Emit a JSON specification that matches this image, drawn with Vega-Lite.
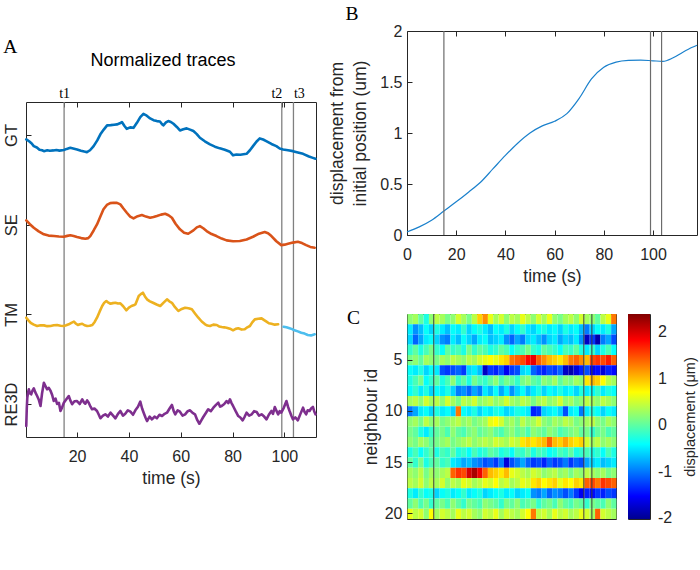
{
  "$schema": "https://vega.github.io/schema/vega-lite/v6.json",
  "background": "white",
  "padding": {"left": 3, "top": 3, "right": 0, "bottom": 0},
  "config": {
    "font": "Liberation Sans",
    "view": {"stroke": "#262626", "strokeWidth": 1},
    "axis": {"grid": false, "domain": false, "labelFont": "Liberation Sans", "labelFontSize": 16, "labelColor": "#262626", "titleFont": "Liberation Sans", "titleFontSize": 17.5, "titleFontWeight": "normal", "titleColor": "#262626", "tickColor": "#262626", "tickSize": -5, "tickWidth": 1, "labelFlush": false, "labelOverlap": false},
    "title": {"font": "Liberation Serif", "fontSize": 19.5, "fontWeight": "normal", "color": "#000000"}
  },
  "datasets": {
    "markers": [{"m": "t1", "t": 15}, {"m": "t2", "t": 99}, {"m": "t3", "t": 103.5}],
    "cbar": [{"lo": -2.03, "hi": 2.38}],
    "shift": [
      {"t": 0, "d": 0.03}, {"t": 5, "d": 0.08}, {"t": 10, "d": 0.145}, {"t": 15, "d": 0.235}, {"t": 20, "d": 0.325}, {"t": 25, "d": 0.42}, {"t": 30, "d": 0.52}, {"t": 35, "d": 0.65}, {"t": 40, "d": 0.78}, {"t": 45, "d": 0.9}, {"t": 50, "d": 1.0}, {"t": 55, "d": 1.07}, {"t": 60, "d": 1.115}, {"t": 65, "d": 1.19}, {"t": 70, "d": 1.34}, {"t": 75, "d": 1.53}, {"t": 80, "d": 1.645}, {"t": 85, "d": 1.695}, {"t": 90, "d": 1.712}, {"t": 95, "d": 1.715}, {"t": 100, "d": 1.708}, {"t": 104, "d": 1.703}, {"t": 108, "d": 1.735}, {"t": 112, "d": 1.79}, {"t": 116, "d": 1.84}, {"t": 117.9, "d": 1.86}
    ],
    "traces": [
      {"s":"GT","t":0.4,"v":3.951},{"s":"GT","t":1.5,"v":3.93},{"s":"GT","t":2.5,"v":3.905},{"s":"GT","t":3.3,"v":3.876},{"s":"GT","t":4.5,"v":3.86},{"s":"GT","t":5.5,"v":3.835},{"s":"GT","t":6.5,"v":3.83},{"s":"GT","t":7.2,"v":3.82},{"s":"GT","t":8.5,"v":3.83},{"s":"GT","t":9.5,"v":3.825},{"s":"GT","t":10.9,"v":3.828},{"s":"GT","t":12,"v":3.832},{"s":"GT","t":13.2,"v":3.826},{"s":"GT","t":14.9,"v":3.832},{"s":"GT","t":16,"v":3.845},{"s":"GT","t":17.4,"v":3.857},{"s":"GT","t":18.5,"v":3.85},{"s":"GT","t":20,"v":3.839},{"s":"GT","t":21.5,"v":3.825},{"s":"GT","t":22.8,"v":3.815},{"s":"GT","t":23.8,"v":3.809},{"s":"GT","t":25,"v":3.83},{"s":"GT","t":26.4,"v":3.876},{"s":"GT","t":27.8,"v":3.94},{"s":"GT","t":29,"v":4.007},{"s":"GT","t":30.3,"v":4.06},{"s":"GT","t":31.6,"v":4.107},{"s":"GT","t":33,"v":4.11},{"s":"GT","t":34.3,"v":4.115},{"s":"GT","t":35.4,"v":4.118},{"s":"GT","t":36.5,"v":4.13},{"s":"GT","t":37.3,"v":4.144},{"s":"GT","t":38.3,"v":4.1},{"s":"GT","t":39.2,"v":4.069},{"s":"GT","t":40.5,"v":4.085},{"s":"GT","t":41.8,"v":4.08},{"s":"GT","t":43.1,"v":4.136},{"s":"GT","t":44.4,"v":4.2},{"s":"GT","t":45.6,"v":4.236},{"s":"GT","t":46.9,"v":4.215},{"s":"GT","t":48.2,"v":4.185},{"s":"GT","t":49.5,"v":4.165},{"s":"GT","t":50.8,"v":4.155},{"s":"GT","t":52,"v":4.15},{"s":"GT","t":52.8,"v":4.12},{"s":"GT","t":53.3,"v":4.107},{"s":"GT","t":54.3,"v":4.14},{"s":"GT","t":55.2,"v":4.155},{"s":"GT","t":56.2,"v":4.145},{"s":"GT","t":57.2,"v":4.125},{"s":"GT","t":58.5,"v":4.09},{"s":"GT","t":59.7,"v":4.051},{"s":"GT","t":61,"v":4.065},{"s":"GT","t":62.3,"v":4.074},{"s":"GT","t":63.6,"v":4.06},{"s":"GT","t":64.9,"v":4.044},{"s":"GT","t":66.2,"v":4.01},{"s":"GT","t":67.4,"v":3.969},{"s":"GT","t":69.3,"v":3.93},{"s":"GT","t":71.3,"v":3.895},{"s":"GT","t":73.2,"v":3.87},{"s":"GT","t":75.1,"v":3.851},{"s":"GT","t":77,"v":3.835},{"s":"GT","t":79,"v":3.813},{"s":"GT","t":80.2,"v":3.773},{"s":"GT","t":81.5,"v":3.782},{"s":"GT","t":83,"v":3.78},{"s":"GT","t":84.2,"v":3.785},{"s":"GT","t":85.4,"v":3.79},{"s":"GT","t":86.7,"v":3.83},{"s":"GT","t":87.9,"v":3.876},{"s":"GT","t":89.2,"v":3.925},{"s":"GT","t":90.5,"v":3.962},{"s":"GT","t":91.8,"v":3.95},{"s":"GT","t":93,"v":3.932},{"s":"GT","t":95,"v":3.9},{"s":"GT","t":96.9,"v":3.876},{"s":"GT","t":98.2,"v":3.85},{"s":"GT","t":99.5,"v":3.839},{"s":"GT","t":101.4,"v":3.83},{"s":"GT","t":103.3,"v":3.82},{"s":"GT","t":105.2,"v":3.805},{"s":"GT","t":107.2,"v":3.79},{"s":"GT","t":109.5,"v":3.76},{"s":"GT","t":111,"v":3.745},{"s":"GT","t":112,"v":3.735},
      {"s":"SE","t":0.4,"v":3.048},{"s":"SE","t":1.8,"v":3.005},{"s":"SE","t":3.3,"v":2.965},{"s":"SE","t":5.2,"v":2.925},{"s":"SE","t":7.2,"v":2.892},{"s":"SE","t":9,"v":2.878},{"s":"SE","t":11.1,"v":2.873},{"s":"SE","t":13,"v":2.868},{"s":"SE","t":14.9,"v":2.865},{"s":"SE","t":16.2,"v":2.875},{"s":"SE","t":17.4,"v":2.881},{"s":"SE","t":18.7,"v":2.873},{"s":"SE","t":20,"v":2.862},{"s":"SE","t":21.6,"v":2.85},{"s":"SE","t":23.2,"v":2.843},{"s":"SE","t":24.3,"v":2.85},{"s":"SE","t":25.1,"v":2.873},{"s":"SE","t":26.4,"v":2.935},{"s":"SE","t":27.7,"v":3.003},{"s":"SE","t":29,"v":3.09},{"s":"SE","t":30.2,"v":3.171},{"s":"SE","t":31.5,"v":3.22},{"s":"SE","t":32.8,"v":3.24},{"s":"SE","t":34.1,"v":3.244},{"s":"SE","t":35.4,"v":3.243},{"s":"SE","t":36.7,"v":3.226},{"s":"SE","t":37.9,"v":3.18},{"s":"SE","t":39.2,"v":3.133},{"s":"SE","t":40.5,"v":3.09},{"s":"SE","t":41.8,"v":3.07},{"s":"SE","t":43.4,"v":3.095},{"s":"SE","t":45,"v":3.107},{"s":"SE","t":46.6,"v":3.09},{"s":"SE","t":48.2,"v":3.077},{"s":"SE","t":49.5,"v":3.085},{"s":"SE","t":50.8,"v":3.096},{"s":"SE","t":52.4,"v":3.112},{"s":"SE","t":54,"v":3.122},{"s":"SE","t":55.3,"v":3.105},{"s":"SE","t":56.6,"v":3.077},{"s":"SE","t":58,"v":3.01},{"s":"SE","t":59.7,"v":2.948},{"s":"SE","t":61.3,"v":2.91},{"s":"SE","t":62.9,"v":2.899},{"s":"SE","t":64.9,"v":2.936},{"s":"SE","t":66.2,"v":2.97},{"s":"SE","t":67.4,"v":2.984},{"s":"SE","t":68.7,"v":2.96},{"s":"SE","t":70,"v":2.929},{"s":"SE","t":71.9,"v":2.895},{"s":"SE","t":73.8,"v":2.873},{"s":"SE","t":75.8,"v":2.845},{"s":"SE","t":77.7,"v":2.825},{"s":"SE","t":80.2,"v":2.815},{"s":"SE","t":82.8,"v":2.817},{"s":"SE","t":85.4,"v":2.835},{"s":"SE","t":87.9,"v":2.865},{"s":"SE","t":90.2,"v":2.9},{"s":"SE","t":92.4,"v":2.918},{"s":"SE","t":93.7,"v":2.905},{"s":"SE","t":95,"v":2.873},{"s":"SE","t":96.9,"v":2.815},{"s":"SE","t":98.8,"v":2.772},{"s":"SE","t":100.1,"v":2.777},{"s":"SE","t":101.4,"v":2.787},{"s":"SE","t":103.3,"v":2.8},{"s":"SE","t":105.2,"v":2.809},{"s":"SE","t":106.8,"v":2.795},{"s":"SE","t":108.4,"v":2.772},{"s":"SE","t":110,"v":2.752},{"s":"SE","t":111.7,"v":2.742},
      {"s":"TM","t":0.4,"v":1.962},{"s":"TM","t":1.3,"v":1.93},{"s":"TM","t":2.1,"v":1.906},{"s":"TM","t":3.3,"v":1.885},{"s":"TM","t":4.6,"v":1.87},{"s":"TM","t":5.9,"v":1.878},{"s":"TM","t":7.2,"v":1.877},{"s":"TM","t":8.5,"v":1.868},{"s":"TM","t":9.8,"v":1.87},{"s":"TM","t":11,"v":1.878},{"s":"TM","t":12.3,"v":1.881},{"s":"TM","t":13.6,"v":1.872},{"s":"TM","t":14.9,"v":1.87},{"s":"TM","t":15.8,"v":1.878},{"s":"TM","t":16.8,"v":1.889},{"s":"TM","t":17.8,"v":1.905},{"s":"TM","t":18.8,"v":1.918},{"s":"TM","t":19.6,"v":1.895},{"s":"TM","t":20.3,"v":1.881},{"s":"TM","t":21.1,"v":1.89},{"s":"TM","t":22,"v":1.895},{"s":"TM","t":22.9,"v":1.878},{"s":"TM","t":23.9,"v":1.87},{"s":"TM","t":24.9,"v":1.872},{"s":"TM","t":25.9,"v":1.881},{"s":"TM","t":26.8,"v":1.915},{"s":"TM","t":27.7,"v":1.962},{"s":"TM","t":28.7,"v":2.03},{"s":"TM","t":29.7,"v":2.093},{"s":"TM","t":30.5,"v":2.13},{"s":"TM","t":31.3,"v":2.148},{"s":"TM","t":32.1,"v":2.13},{"s":"TM","t":32.9,"v":2.118},{"s":"TM","t":33.8,"v":2.125},{"s":"TM","t":34.8,"v":2.129},{"s":"TM","t":35.8,"v":2.12},{"s":"TM","t":36.7,"v":2.123},{"s":"TM","t":37.8,"v":2.09},{"s":"TM","t":39,"v":2.045},{"s":"TM","t":40,"v":2.075},{"s":"TM","t":41,"v":2.093},{"s":"TM","t":41.8,"v":2.1},{"s":"TM","t":42.5,"v":2.111},{"s":"TM","t":43.2,"v":2.16},{"s":"TM","t":43.8,"v":2.204},{"s":"TM","t":44.6,"v":2.225},{"s":"TM","t":45.4,"v":2.241},{"s":"TM","t":46.2,"v":2.2},{"s":"TM","t":47,"v":2.167},{"s":"TM","t":48.1,"v":2.145},{"s":"TM","t":49.3,"v":2.129},{"s":"TM","t":50.7,"v":2.11},{"s":"TM","t":52.1,"v":2.093},{"s":"TM","t":53.4,"v":2.13},{"s":"TM","t":54.7,"v":2.167},{"s":"TM","t":55.6,"v":2.145},{"s":"TM","t":56.6,"v":2.129},{"s":"TM","t":57.8,"v":2.08},{"s":"TM","t":59.1,"v":2.037},{"s":"TM","t":60.4,"v":2.06},{"s":"TM","t":61.7,"v":2.074},{"s":"TM","t":63,"v":2.068},{"s":"TM","t":64.3,"v":2.056},{"s":"TM","t":65.5,"v":2.01},{"s":"TM","t":66.8,"v":1.962},{"s":"TM","t":68.1,"v":1.92},{"s":"TM","t":69.4,"v":1.889},{"s":"TM","t":70.3,"v":1.875},{"s":"TM","t":71.3,"v":1.87},{"s":"TM","t":72.6,"v":1.885},{"s":"TM","t":73.9,"v":1.881},{"s":"TM","t":74.8,"v":1.865},{"s":"TM","t":75.8,"v":1.858},{"s":"TM","t":76.8,"v":1.855},{"s":"TM","t":77.7,"v":1.851},{"s":"TM","t":79,"v":1.84},{"s":"TM","t":80.2,"v":1.822},{"s":"TM","t":81.2,"v":1.838},{"s":"TM","t":82.2,"v":1.844},{"s":"TM","t":83.5,"v":1.83},{"s":"TM","t":84.7,"v":1.833},{"s":"TM","t":85.7,"v":1.855},{"s":"TM","t":86.7,"v":1.87},{"s":"TM","t":87.6,"v":1.91},{"s":"TM","t":88.6,"v":1.944},{"s":"TM","t":89.9,"v":1.95},{"s":"TM","t":91.2,"v":1.955},{"s":"TM","t":92.2,"v":1.935},{"s":"TM","t":93.1,"v":1.918},{"s":"TM","t":94,"v":1.9},{"s":"TM","t":95,"v":1.895},{"s":"TM","t":96.3,"v":1.885},{"s":"TM","t":97.6,"v":1.889},
      {"s":"TM2","t":99.7,"v":1.862},{"s":"TM2","t":100.8,"v":1.855},{"s":"TM2","t":102,"v":1.844},{"s":"TM2","t":103,"v":1.835},{"s":"TM2","t":103.9,"v":1.822},{"s":"TM2","t":105.2,"v":1.81},{"s":"TM2","t":106.5,"v":1.795},{"s":"TM2","t":107.8,"v":1.785},{"s":"TM2","t":109,"v":1.769},{"s":"TM2","t":110.3,"v":1.765},{"s":"TM2","t":111.7,"v":1.777},
      {"s":"RE3D","t":0.4,"v":0.755},{"s":"RE3D","t":0.6,"v":0.95},{"s":"RE3D","t":0.8,"v":1.07},{"s":"RE3D","t":1.1,"v":1.13},{"s":"RE3D","t":1.4,"v":1.164},{"s":"RE3D","t":1.8,"v":1.12},{"s":"RE3D","t":2.3,"v":1.108},{"s":"RE3D","t":2.8,"v":1.15},{"s":"RE3D","t":3.3,"v":1.175},{"s":"RE3D","t":3.9,"v":1.13},{"s":"RE3D","t":4.6,"v":1.089},{"s":"RE3D","t":5.2,"v":1.05},{"s":"RE3D","t":5.9,"v":0.978},{"s":"RE3D","t":6.5,"v":1.12},{"s":"RE3D","t":7.2,"v":1.237},{"s":"RE3D","t":7.8,"v":1.2},{"s":"RE3D","t":8.4,"v":1.164},{"s":"RE3D","t":9.1,"v":1.18},{"s":"RE3D","t":9.8,"v":1.145},{"s":"RE3D","t":10.4,"v":1.1},{"s":"RE3D","t":11,"v":1.033},{"s":"RE3D","t":11.7,"v":1.06},{"s":"RE3D","t":12.3,"v":1.0},{"s":"RE3D","t":13,"v":1.014},{"s":"RE3D","t":13.6,"v":0.922},{"s":"RE3D","t":14.2,"v":0.96},{"s":"RE3D","t":14.9,"v":1.014},{"s":"RE3D","t":15.8,"v":1.05},{"s":"RE3D","t":16.8,"v":1.089},{"s":"RE3D","t":17.4,"v":1.04},{"s":"RE3D","t":18.1,"v":0.997},{"s":"RE3D","t":19,"v":1.03},{"s":"RE3D","t":20,"v":1.033},{"s":"RE3D","t":21,"v":1.0},{"s":"RE3D","t":22,"v":1.052},{"s":"RE3D","t":22.6,"v":1.02},{"s":"RE3D","t":23.2,"v":1.003},{"s":"RE3D","t":23.9,"v":1.04},{"s":"RE3D","t":24.5,"v":1.014},{"s":"RE3D","t":25.2,"v":0.97},{"s":"RE3D","t":25.8,"v":0.941},{"s":"RE3D","t":26.7,"v":0.95},{"s":"RE3D","t":27.7,"v":0.922},{"s":"RE3D","t":28.4,"v":0.88},{"s":"RE3D","t":29,"v":0.841},{"s":"RE3D","t":30,"v":0.87},{"s":"RE3D","t":30.9,"v":0.885},{"s":"RE3D","t":31.9,"v":0.86},{"s":"RE3D","t":32.9,"v":0.903},{"s":"RE3D","t":33.9,"v":0.87},{"s":"RE3D","t":34.8,"v":0.841},{"s":"RE3D","t":35.8,"v":0.89},{"s":"RE3D","t":36.7,"v":0.922},{"s":"RE3D","t":37.7,"v":0.87},{"s":"RE3D","t":38.6,"v":0.892},{"s":"RE3D","t":39.6,"v":0.93},{"s":"RE3D","t":40.6,"v":0.914},{"s":"RE3D","t":41.6,"v":0.88},{"s":"RE3D","t":42.5,"v":0.93},{"s":"RE3D","t":43.5,"v":0.97},{"s":"RE3D","t":44.4,"v":1.026},{"s":"RE3D","t":45.1,"v":0.95},{"s":"RE3D","t":45.7,"v":0.903},{"s":"RE3D","t":46.4,"v":0.85},{"s":"RE3D","t":47,"v":0.81},{"s":"RE3D","t":48,"v":0.86},{"s":"RE3D","t":48.9,"v":0.829},{"s":"RE3D","t":49.9,"v":0.86},{"s":"RE3D","t":50.8,"v":0.841},{"s":"RE3D","t":51.8,"v":0.88},{"s":"RE3D","t":52.8,"v":0.866},{"s":"RE3D","t":53.8,"v":0.89},{"s":"RE3D","t":54.7,"v":0.903},{"s":"RE3D","t":55.7,"v":0.95},{"s":"RE3D","t":56.6,"v":0.989},{"s":"RE3D","t":57.3,"v":0.92},{"s":"RE3D","t":57.9,"v":0.885},{"s":"RE3D","t":58.8,"v":0.93},{"s":"RE3D","t":59.7,"v":0.914},{"s":"RE3D","t":60.7,"v":0.87},{"s":"RE3D","t":61.7,"v":0.885},{"s":"RE3D","t":62.7,"v":0.92},{"s":"RE3D","t":63.6,"v":0.93},{"s":"RE3D","t":64.6,"v":0.9},{"s":"RE3D","t":65.5,"v":0.885},{"s":"RE3D","t":66.4,"v":0.82},{"s":"RE3D","t":67.2,"v":0.78},{"s":"RE3D","t":68,"v":0.82},{"s":"RE3D","t":68.7,"v":0.855},{"s":"RE3D","t":69.7,"v":0.9},{"s":"RE3D","t":70.6,"v":0.941},{"s":"RE3D","t":71.6,"v":0.92},{"s":"RE3D","t":72.6,"v":0.959},{"s":"RE3D","t":73.6,"v":0.99},{"s":"RE3D","t":74.5,"v":1.014},{"s":"RE3D","t":75.2,"v":0.97},{"s":"RE3D","t":75.8,"v":0.978},{"s":"RE3D","t":76.8,"v":1.0},{"s":"RE3D","t":77.7,"v":1.033},{"s":"RE3D","t":78.4,"v":1.01},{"s":"RE3D","t":79,"v":1.052},{"s":"RE3D","t":79.6,"v":1.01},{"s":"RE3D","t":80.2,"v":0.978},{"s":"RE3D","t":81.2,"v":0.92},{"s":"RE3D","t":82.2,"v":0.866},{"s":"RE3D","t":83,"v":0.85},{"s":"RE3D","t":83.9,"v":0.818},{"s":"RE3D","t":84.7,"v":0.86},{"s":"RE3D","t":85.4,"v":0.903},{"s":"RE3D","t":86.4,"v":0.87},{"s":"RE3D","t":87.4,"v":0.885},{"s":"RE3D","t":88.3,"v":0.92},{"s":"RE3D","t":89.3,"v":0.911},{"s":"RE3D","t":90.2,"v":0.87},{"s":"RE3D","t":91.2,"v":0.885},{"s":"RE3D","t":92.2,"v":0.86},{"s":"RE3D","t":93.1,"v":0.829},{"s":"RE3D","t":94,"v":0.88},{"s":"RE3D","t":95,"v":0.922},{"s":"RE3D","t":95.6,"v":0.89},{"s":"RE3D","t":96.3,"v":0.967},{"s":"RE3D","t":97,"v":0.92},{"s":"RE3D","t":97.6,"v":0.885},{"s":"RE3D","t":98.2,"v":0.92},{"s":"RE3D","t":98.8,"v":0.903},{"s":"RE3D","t":99.8,"v":0.96},{"s":"RE3D","t":100.8,"v":1.033},{"s":"RE3D","t":101.4,"v":0.97},{"s":"RE3D","t":102,"v":0.922},{"s":"RE3D","t":102.7,"v":0.87},{"s":"RE3D","t":103.3,"v":0.829},{"s":"RE3D","t":104.2,"v":0.85},{"s":"RE3D","t":105.2,"v":0.818},{"s":"RE3D","t":106.2,"v":0.89},{"s":"RE3D","t":107.2,"v":0.959},{"s":"RE3D","t":107.8,"v":0.91},{"s":"RE3D","t":108.4,"v":0.885},{"s":"RE3D","t":109,"v":0.93},{"s":"RE3D","t":109.7,"v":0.922},{"s":"RE3D","t":110.3,"v":0.95},{"s":"RE3D","t":111,"v":0.967},{"s":"RE3D","t":111.5,"v":0.92},{"s":"RE3D","t":112,"v":0.885}
    ],
    "heat": [
      {"n":1,"t":0,"v":0.2},{"n":1,"t":3,"v":0.3},{"n":1,"t":6,"v":0.0},{"n":1,"t":9,"v":-0.3},{"n":1,"t":12,"v":0.2},{"n":1,"t":15,"v":0.4},{"n":1,"t":18,"v":0.3},{"n":1,"t":21,"v":0.1},{"n":1,"t":24,"v":0.2},{"n":1,"t":27,"v":0.5},{"n":1,"t":30,"v":0.3},{"n":1,"t":33,"v":0.1},{"n":1,"t":36,"v":0.4},{"n":1,"t":39,"v":0.9},{"n":1,"t":42,"v":1.2},{"n":1,"t":45,"v":0.6},{"n":1,"t":48,"v":0.3},{"n":1,"t":51,"v":0.5},{"n":1,"t":54,"v":0.2},{"n":1,"t":57,"v":0.4},{"n":1,"t":60,"v":0.3},{"n":1,"t":63,"v":0.6},{"n":1,"t":66,"v":0.4},{"n":1,"t":69,"v":0.2},{"n":1,"t":72,"v":0.5},{"n":1,"t":75,"v":0.3},{"n":1,"t":78,"v":0.6},{"n":1,"t":81,"v":0.2},{"n":1,"t":84,"v":0.1},{"n":1,"t":87,"v":0.3},{"n":1,"t":90,"v":0.4},{"n":1,"t":93,"v":0.2},{"n":1,"t":96,"v":0.5},{"n":1,"t":99,"v":0.3},{"n":1,"t":102,"v":0.2},{"n":1,"t":105,"v":0.0},{"n":1,"t":108,"v":0.4},{"n":1,"t":111,"v":0.6},{"n":1,"t":114,"v":1.3},
      {"n":2,"t":0,"v":-0.5},{"n":2,"t":3,"v":-0.9},{"n":2,"t":6,"v":-0.7},{"n":2,"t":9,"v":-0.4},{"n":2,"t":12,"v":-0.6},{"n":2,"t":15,"v":-0.3},{"n":2,"t":18,"v":-0.5},{"n":2,"t":21,"v":-0.7},{"n":2,"t":24,"v":-0.4},{"n":2,"t":27,"v":-0.5},{"n":2,"t":30,"v":-0.2},{"n":2,"t":33,"v":-0.6},{"n":2,"t":36,"v":-0.4},{"n":2,"t":39,"v":-0.3},{"n":2,"t":42,"v":-0.5},{"n":2,"t":45,"v":-0.7},{"n":2,"t":48,"v":-0.4},{"n":2,"t":51,"v":-0.5},{"n":2,"t":54,"v":-0.3},{"n":2,"t":57,"v":-0.6},{"n":2,"t":60,"v":-0.4},{"n":2,"t":63,"v":-0.2},{"n":2,"t":66,"v":-0.5},{"n":2,"t":69,"v":-0.6},{"n":2,"t":72,"v":-0.4},{"n":2,"t":75,"v":-0.3},{"n":2,"t":78,"v":-0.5},{"n":2,"t":81,"v":-0.4},{"n":2,"t":84,"v":-0.6},{"n":2,"t":87,"v":-0.3},{"n":2,"t":90,"v":-0.5},{"n":2,"t":93,"v":-0.4},{"n":2,"t":96,"v":-0.7},{"n":2,"t":99,"v":-1.0},{"n":2,"t":102,"v":-0.6},{"n":2,"t":105,"v":-0.4},{"n":2,"t":108,"v":-0.5},{"n":2,"t":111,"v":-0.3},{"n":2,"t":114,"v":-0.8},
      {"n":3,"t":0,"v":-0.6},{"n":3,"t":3,"v":-1.1},{"n":3,"t":6,"v":-0.8},{"n":3,"t":9,"v":-0.5},{"n":3,"t":12,"v":-0.4},{"n":3,"t":15,"v":-0.6},{"n":3,"t":18,"v":-0.9},{"n":3,"t":21,"v":-1.0},{"n":3,"t":24,"v":-0.5},{"n":3,"t":27,"v":-0.7},{"n":3,"t":30,"v":-0.4},{"n":3,"t":33,"v":-0.6},{"n":3,"t":36,"v":-0.8},{"n":3,"t":39,"v":-0.5},{"n":3,"t":42,"v":-0.4},{"n":3,"t":45,"v":-0.7},{"n":3,"t":48,"v":-0.6},{"n":3,"t":51,"v":-0.5},{"n":3,"t":54,"v":-0.9},{"n":3,"t":57,"v":-1.1},{"n":3,"t":60,"v":-0.8},{"n":3,"t":63,"v":-1.0},{"n":3,"t":66,"v":-0.6},{"n":3,"t":69,"v":-0.5},{"n":3,"t":72,"v":-0.7},{"n":3,"t":75,"v":-0.9},{"n":3,"t":78,"v":-0.6},{"n":3,"t":81,"v":-0.5},{"n":3,"t":84,"v":-0.8},{"n":3,"t":87,"v":-0.6},{"n":3,"t":90,"v":-0.7},{"n":3,"t":93,"v":-0.5},{"n":3,"t":96,"v":-0.9},{"n":3,"t":99,"v":-1.8},{"n":3,"t":102,"v":-1.3},{"n":3,"t":105,"v":-1.9},{"n":3,"t":108,"v":-1.0},{"n":3,"t":111,"v":-0.8},{"n":3,"t":114,"v":-1.2},
      {"n":4,"t":0,"v":-0.2},{"n":4,"t":3,"v":0.0},{"n":4,"t":6,"v":-0.3},{"n":4,"t":9,"v":-0.1},{"n":4,"t":12,"v":0.1},{"n":4,"t":15,"v":-0.2},{"n":4,"t":18,"v":-0.4},{"n":4,"t":21,"v":0.0},{"n":4,"t":24,"v":-0.2},{"n":4,"t":27,"v":-0.1},{"n":4,"t":30,"v":-0.3},{"n":4,"t":33,"v":0.1},{"n":4,"t":36,"v":-0.2},{"n":4,"t":39,"v":0.0},{"n":4,"t":42,"v":-0.1},{"n":4,"t":45,"v":-0.3},{"n":4,"t":48,"v":-0.2},{"n":4,"t":51,"v":0.0},{"n":4,"t":54,"v":-0.1},{"n":4,"t":57,"v":-0.4},{"n":4,"t":60,"v":-0.2},{"n":4,"t":63,"v":-0.1},{"n":4,"t":66,"v":0.1},{"n":4,"t":69,"v":-0.2},{"n":4,"t":72,"v":-0.3},{"n":4,"t":75,"v":0.0},{"n":4,"t":78,"v":-0.1},{"n":4,"t":81,"v":-0.2},{"n":4,"t":84,"v":-0.4},{"n":4,"t":87,"v":-0.1},{"n":4,"t":90,"v":-0.2},{"n":4,"t":93,"v":0.0},{"n":4,"t":96,"v":-0.3},{"n":4,"t":99,"v":-0.5},{"n":4,"t":102,"v":-0.2},{"n":4,"t":105,"v":-0.6},{"n":4,"t":108,"v":-0.3},{"n":4,"t":111,"v":-0.1},{"n":4,"t":114,"v":-0.4},
      {"n":5,"t":0,"v":0.1},{"n":5,"t":3,"v":0.2},{"n":5,"t":6,"v":0.0},{"n":5,"t":9,"v":0.3},{"n":5,"t":12,"v":0.2},{"n":5,"t":15,"v":0.1},{"n":5,"t":18,"v":0.3},{"n":5,"t":21,"v":0.2},{"n":5,"t":24,"v":0.4},{"n":5,"t":27,"v":0.3},{"n":5,"t":30,"v":0.2},{"n":5,"t":33,"v":0.4},{"n":5,"t":36,"v":0.3},{"n":5,"t":39,"v":0.5},{"n":5,"t":42,"v":0.6},{"n":5,"t":45,"v":0.7},{"n":5,"t":48,"v":0.6},{"n":5,"t":51,"v":0.8},{"n":5,"t":54,"v":0.9},{"n":5,"t":57,"v":1.3},{"n":5,"t":60,"v":1.4},{"n":5,"t":63,"v":1.5},{"n":5,"t":66,"v":1.8},{"n":5,"t":69,"v":1.9},{"n":5,"t":72,"v":1.4},{"n":5,"t":75,"v":1.2},{"n":5,"t":78,"v":1.0},{"n":5,"t":81,"v":0.9},{"n":5,"t":84,"v":0.8},{"n":5,"t":87,"v":1.0},{"n":5,"t":90,"v":1.3},{"n":5,"t":93,"v":1.4},{"n":5,"t":96,"v":1.2},{"n":5,"t":99,"v":1.0},{"n":5,"t":102,"v":1.5},{"n":5,"t":105,"v":1.6},{"n":5,"t":108,"v":1.5},{"n":5,"t":111,"v":1.7},{"n":5,"t":114,"v":1.4},
      {"n":6,"t":0,"v":-0.4},{"n":6,"t":3,"v":-0.5},{"n":6,"t":6,"v":-0.3},{"n":6,"t":9,"v":-0.6},{"n":6,"t":12,"v":-0.4},{"n":6,"t":15,"v":-0.5},{"n":6,"t":18,"v":-1.2},{"n":6,"t":21,"v":-1.3},{"n":6,"t":24,"v":-1.2},{"n":6,"t":27,"v":-1.1},{"n":6,"t":30,"v":-1.3},{"n":6,"t":33,"v":-0.6},{"n":6,"t":36,"v":-0.5},{"n":6,"t":39,"v":-0.7},{"n":6,"t":42,"v":-1.8},{"n":6,"t":45,"v":-1.3},{"n":6,"t":48,"v":-1.4},{"n":6,"t":51,"v":-1.2},{"n":6,"t":54,"v":-1.6},{"n":6,"t":57,"v":-1.3},{"n":6,"t":60,"v":-1.2},{"n":6,"t":63,"v":-0.6},{"n":6,"t":66,"v":-0.5},{"n":6,"t":69,"v":-1.1},{"n":6,"t":72,"v":-1.3},{"n":6,"t":75,"v":-1.4},{"n":6,"t":78,"v":-1.2},{"n":6,"t":81,"v":-1.3},{"n":6,"t":84,"v":-1.1},{"n":6,"t":87,"v":-1.8},{"n":6,"t":90,"v":-1.9},{"n":6,"t":93,"v":-1.7},{"n":6,"t":96,"v":-1.4},{"n":6,"t":99,"v":-1.2},{"n":6,"t":102,"v":-1.6},{"n":6,"t":105,"v":-1.5},{"n":6,"t":108,"v":-1.7},{"n":6,"t":111,"v":-1.4},{"n":6,"t":114,"v":-1.5},
      {"n":7,"t":0,"v":-0.3},{"n":7,"t":3,"v":-0.1},{"n":7,"t":6,"v":0.1},{"n":7,"t":9,"v":-0.4},{"n":7,"t":12,"v":-0.2},{"n":7,"t":15,"v":0.0},{"n":7,"t":18,"v":-0.3},{"n":7,"t":21,"v":-0.1},{"n":7,"t":24,"v":0.2},{"n":7,"t":27,"v":-0.2},{"n":7,"t":30,"v":0.0},{"n":7,"t":33,"v":-0.3},{"n":7,"t":36,"v":0.1},{"n":7,"t":39,"v":-0.1},{"n":7,"t":42,"v":-0.2},{"n":7,"t":45,"v":0.0},{"n":7,"t":48,"v":0.2},{"n":7,"t":51,"v":-0.1},{"n":7,"t":54,"v":0.1},{"n":7,"t":57,"v":0.0},{"n":7,"t":60,"v":-0.2},{"n":7,"t":63,"v":0.1},{"n":7,"t":66,"v":0.2},{"n":7,"t":69,"v":0.0},{"n":7,"t":72,"v":-0.1},{"n":7,"t":75,"v":0.2},{"n":7,"t":78,"v":0.1},{"n":7,"t":81,"v":0.3},{"n":7,"t":84,"v":0.0},{"n":7,"t":87,"v":0.2},{"n":7,"t":90,"v":0.1},{"n":7,"t":93,"v":0.3},{"n":7,"t":96,"v":0.2},{"n":7,"t":99,"v":0.8},{"n":7,"t":102,"v":1.0},{"n":7,"t":105,"v":0.9},{"n":7,"t":108,"v":0.7},{"n":7,"t":111,"v":0.4},{"n":7,"t":114,"v":0.3},
      {"n":8,"t":0,"v":-0.4},{"n":8,"t":3,"v":-0.2},{"n":8,"t":6,"v":-0.5},{"n":8,"t":9,"v":-0.3},{"n":8,"t":12,"v":-0.6},{"n":8,"t":15,"v":-0.4},{"n":8,"t":18,"v":-0.5},{"n":8,"t":21,"v":-0.3},{"n":8,"t":24,"v":-0.6},{"n":8,"t":27,"v":-1.0},{"n":8,"t":30,"v":-0.9},{"n":8,"t":33,"v":-1.1},{"n":8,"t":36,"v":-0.8},{"n":8,"t":39,"v":-1.0},{"n":8,"t":42,"v":-0.5},{"n":8,"t":45,"v":-0.7},{"n":8,"t":48,"v":-0.4},{"n":8,"t":51,"v":-0.8},{"n":8,"t":54,"v":-0.5},{"n":8,"t":57,"v":-0.9},{"n":8,"t":60,"v":-0.6},{"n":8,"t":63,"v":-0.4},{"n":8,"t":66,"v":-0.7},{"n":8,"t":69,"v":-0.5},{"n":8,"t":72,"v":-0.3},{"n":8,"t":75,"v":-0.6},{"n":8,"t":78,"v":-0.4},{"n":8,"t":81,"v":-0.5},{"n":8,"t":84,"v":-0.3},{"n":8,"t":87,"v":-0.5},{"n":8,"t":90,"v":-0.4},{"n":8,"t":93,"v":-0.6},{"n":8,"t":96,"v":-0.3},{"n":8,"t":99,"v":-0.5},{"n":8,"t":102,"v":-0.4},{"n":8,"t":105,"v":-0.2},{"n":8,"t":108,"v":-0.5},{"n":8,"t":111,"v":-0.3},{"n":8,"t":114,"v":-0.4},
      {"n":9,"t":0,"v":0.3},{"n":9,"t":3,"v":0.4},{"n":9,"t":6,"v":0.2},{"n":9,"t":9,"v":0.5},{"n":9,"t":12,"v":0.3},{"n":9,"t":15,"v":0.4},{"n":9,"t":18,"v":0.2},{"n":9,"t":21,"v":0.5},{"n":9,"t":24,"v":0.3},{"n":9,"t":27,"v":0.1},{"n":9,"t":30,"v":0.4},{"n":9,"t":33,"v":0.3},{"n":9,"t":36,"v":0.5},{"n":9,"t":39,"v":0.2},{"n":9,"t":42,"v":0.3},{"n":9,"t":45,"v":0.4},{"n":9,"t":48,"v":0.2},{"n":9,"t":51,"v":0.3},{"n":9,"t":54,"v":0.5},{"n":9,"t":57,"v":0.3},{"n":9,"t":60,"v":0.2},{"n":9,"t":63,"v":0.4},{"n":9,"t":66,"v":0.3},{"n":9,"t":69,"v":0.1},{"n":9,"t":72,"v":0.3},{"n":9,"t":75,"v":0.4},{"n":9,"t":78,"v":0.2},{"n":9,"t":81,"v":0.3},{"n":9,"t":84,"v":0.5},{"n":9,"t":87,"v":0.2},{"n":9,"t":90,"v":0.3},{"n":9,"t":93,"v":0.1},{"n":9,"t":96,"v":0.2},{"n":9,"t":99,"v":0.4},{"n":9,"t":102,"v":0.3},{"n":9,"t":105,"v":0.2},{"n":9,"t":108,"v":0.4},{"n":9,"t":111,"v":0.3},{"n":9,"t":114,"v":0.2},
      {"n":10,"t":0,"v":-1.0},{"n":10,"t":3,"v":-0.8},{"n":10,"t":6,"v":-0.5},{"n":10,"t":9,"v":-0.4},{"n":10,"t":12,"v":-0.6},{"n":10,"t":15,"v":-0.3},{"n":10,"t":18,"v":-0.5},{"n":10,"t":21,"v":-0.4},{"n":10,"t":24,"v":-0.6},{"n":10,"t":27,"v":1.3},{"n":10,"t":30,"v":-0.4},{"n":10,"t":33,"v":-0.5},{"n":10,"t":36,"v":-0.3},{"n":10,"t":39,"v":-0.6},{"n":10,"t":42,"v":-0.4},{"n":10,"t":45,"v":-0.5},{"n":10,"t":48,"v":-0.3},{"n":10,"t":51,"v":-0.4},{"n":10,"t":54,"v":-0.6},{"n":10,"t":57,"v":-0.5},{"n":10,"t":60,"v":-0.3},{"n":10,"t":63,"v":-0.4},{"n":10,"t":66,"v":-0.5},{"n":10,"t":69,"v":-1.4},{"n":10,"t":72,"v":-1.3},{"n":10,"t":75,"v":-0.6},{"n":10,"t":78,"v":-0.5},{"n":10,"t":81,"v":-0.4},{"n":10,"t":84,"v":-0.6},{"n":10,"t":87,"v":-1.2},{"n":10,"t":90,"v":-0.5},{"n":10,"t":93,"v":-0.4},{"n":10,"t":96,"v":-1.0},{"n":10,"t":99,"v":-0.5},{"n":10,"t":102,"v":-0.3},{"n":10,"t":105,"v":-0.4},{"n":10,"t":108,"v":-0.6},{"n":10,"t":111,"v":-0.4},{"n":10,"t":114,"v":-0.5},
      {"n":11,"t":0,"v":0.2},{"n":11,"t":3,"v":0.3},{"n":11,"t":6,"v":0.1},{"n":11,"t":9,"v":0.4},{"n":11,"t":12,"v":0.2},{"n":11,"t":15,"v":0.3},{"n":11,"t":18,"v":0.1},{"n":11,"t":21,"v":0.2},{"n":11,"t":24,"v":0.3},{"n":11,"t":27,"v":0.4},{"n":11,"t":30,"v":0.2},{"n":11,"t":33,"v":0.3},{"n":11,"t":36,"v":0.1},{"n":11,"t":39,"v":0.2},{"n":11,"t":42,"v":0.3},{"n":11,"t":45,"v":0.6},{"n":11,"t":48,"v":0.7},{"n":11,"t":51,"v":0.5},{"n":11,"t":54,"v":0.2},{"n":11,"t":57,"v":0.3},{"n":11,"t":60,"v":0.1},{"n":11,"t":63,"v":0.4},{"n":11,"t":66,"v":0.2},{"n":11,"t":69,"v":0.3},{"n":11,"t":72,"v":0.5},{"n":11,"t":75,"v":0.2},{"n":11,"t":78,"v":0.1},{"n":11,"t":81,"v":0.3},{"n":11,"t":84,"v":0.2},{"n":11,"t":87,"v":0.4},{"n":11,"t":90,"v":0.3},{"n":11,"t":93,"v":0.1},{"n":11,"t":96,"v":0.2},{"n":11,"t":99,"v":0.3},{"n":11,"t":102,"v":0.4},{"n":11,"t":105,"v":0.2},{"n":11,"t":108,"v":0.1},{"n":11,"t":111,"v":0.3},{"n":11,"t":114,"v":0.2},
      {"n":12,"t":0,"v":0.1},{"n":12,"t":3,"v":0.0},{"n":12,"t":6,"v":-0.3},{"n":12,"t":9,"v":-0.5},{"n":12,"t":12,"v":-0.2},{"n":12,"t":15,"v":0.0},{"n":12,"t":18,"v":0.1},{"n":12,"t":21,"v":-0.1},{"n":12,"t":24,"v":0.2},{"n":12,"t":27,"v":0.0},{"n":12,"t":30,"v":-0.1},{"n":12,"t":33,"v":0.1},{"n":12,"t":36,"v":0.2},{"n":12,"t":39,"v":0.0},{"n":12,"t":42,"v":0.1},{"n":12,"t":45,"v":0.2},{"n":12,"t":48,"v":0.0},{"n":12,"t":51,"v":-0.1},{"n":12,"t":54,"v":0.1},{"n":12,"t":57,"v":0.2},{"n":12,"t":60,"v":0.0},{"n":12,"t":63,"v":0.1},{"n":12,"t":66,"v":-0.1},{"n":12,"t":69,"v":0.2},{"n":12,"t":72,"v":0.1},{"n":12,"t":75,"v":0.0},{"n":12,"t":78,"v":0.2},{"n":12,"t":81,"v":0.1},{"n":12,"t":84,"v":-0.1},{"n":12,"t":87,"v":0.0},{"n":12,"t":90,"v":0.1},{"n":12,"t":93,"v":0.2},{"n":12,"t":96,"v":0.0},{"n":12,"t":99,"v":0.1},{"n":12,"t":102,"v":-0.2},{"n":12,"t":105,"v":0.0},{"n":12,"t":108,"v":0.1},{"n":12,"t":111,"v":-0.1},{"n":12,"t":114,"v":0.0},
      {"n":13,"t":0,"v":0.2},{"n":13,"t":3,"v":0.1},{"n":13,"t":6,"v":0.3},{"n":13,"t":9,"v":0.2},{"n":13,"t":12,"v":0.0},{"n":13,"t":15,"v":0.1},{"n":13,"t":18,"v":0.2},{"n":13,"t":21,"v":0.3},{"n":13,"t":24,"v":0.1},{"n":13,"t":27,"v":0.2},{"n":13,"t":30,"v":0.3},{"n":13,"t":33,"v":0.4},{"n":13,"t":36,"v":0.2},{"n":13,"t":39,"v":0.3},{"n":13,"t":42,"v":0.4},{"n":13,"t":45,"v":0.3},{"n":13,"t":48,"v":0.5},{"n":13,"t":51,"v":0.4},{"n":13,"t":54,"v":0.3},{"n":13,"t":57,"v":0.5},{"n":13,"t":60,"v":0.4},{"n":13,"t":63,"v":0.8},{"n":13,"t":66,"v":0.9},{"n":13,"t":69,"v":0.8},{"n":13,"t":72,"v":0.9},{"n":13,"t":75,"v":1.0},{"n":13,"t":78,"v":1.4},{"n":13,"t":81,"v":1.0},{"n":13,"t":84,"v":0.9},{"n":13,"t":87,"v":1.1},{"n":13,"t":90,"v":0.9},{"n":13,"t":93,"v":0.8},{"n":13,"t":96,"v":0.9},{"n":13,"t":99,"v":0.5},{"n":13,"t":102,"v":0.3},{"n":13,"t":105,"v":0.4},{"n":13,"t":108,"v":0.2},{"n":13,"t":111,"v":0.3},{"n":13,"t":114,"v":0.2},
      {"n":14,"t":0,"v":-0.3},{"n":14,"t":3,"v":-0.1},{"n":14,"t":6,"v":-0.4},{"n":14,"t":9,"v":-0.2},{"n":14,"t":12,"v":0.0},{"n":14,"t":15,"v":-0.3},{"n":14,"t":18,"v":-0.1},{"n":14,"t":21,"v":-0.2},{"n":14,"t":24,"v":0.0},{"n":14,"t":27,"v":-0.3},{"n":14,"t":30,"v":-0.2},{"n":14,"t":33,"v":-0.4},{"n":14,"t":36,"v":-0.1},{"n":14,"t":39,"v":-0.3},{"n":14,"t":42,"v":-0.2},{"n":14,"t":45,"v":0.0},{"n":14,"t":48,"v":-0.1},{"n":14,"t":51,"v":-0.3},{"n":14,"t":54,"v":-0.2},{"n":14,"t":57,"v":-0.4},{"n":14,"t":60,"v":-0.1},{"n":14,"t":63,"v":-0.2},{"n":14,"t":66,"v":0.0},{"n":14,"t":69,"v":-0.3},{"n":14,"t":72,"v":-0.1},{"n":14,"t":75,"v":-0.2},{"n":14,"t":78,"v":-0.4},{"n":14,"t":81,"v":-0.3},{"n":14,"t":84,"v":-0.1},{"n":14,"t":87,"v":-0.2},{"n":14,"t":90,"v":0.0},{"n":14,"t":93,"v":-0.3},{"n":14,"t":96,"v":-0.2},{"n":14,"t":99,"v":-0.1},{"n":14,"t":102,"v":-0.3},{"n":14,"t":105,"v":-0.2},{"n":14,"t":108,"v":-0.4},{"n":14,"t":111,"v":-0.1},{"n":14,"t":114,"v":-0.3},
      {"n":15,"t":0,"v":0.0},{"n":15,"t":3,"v":-0.2},{"n":15,"t":6,"v":0.1},{"n":15,"t":9,"v":-0.3},{"n":15,"t":12,"v":-0.1},{"n":15,"t":15,"v":0.0},{"n":15,"t":18,"v":-0.2},{"n":15,"t":21,"v":-0.1},{"n":15,"t":24,"v":-0.5},{"n":15,"t":27,"v":-0.6},{"n":15,"t":30,"v":-0.8},{"n":15,"t":33,"v":-0.7},{"n":15,"t":36,"v":-0.9},{"n":15,"t":39,"v":-1.0},{"n":15,"t":42,"v":-1.2},{"n":15,"t":45,"v":-1.1},{"n":15,"t":48,"v":-1.3},{"n":15,"t":51,"v":-1.0},{"n":15,"t":54,"v":-1.7},{"n":15,"t":57,"v":-1.2},{"n":15,"t":60,"v":-1.0},{"n":15,"t":63,"v":-0.8},{"n":15,"t":66,"v":-1.1},{"n":15,"t":69,"v":-1.3},{"n":15,"t":72,"v":-1.2},{"n":15,"t":75,"v":-1.4},{"n":15,"t":78,"v":-1.1},{"n":15,"t":81,"v":-1.3},{"n":15,"t":84,"v":-1.2},{"n":15,"t":87,"v":-1.0},{"n":15,"t":90,"v":-1.3},{"n":15,"t":93,"v":-1.1},{"n":15,"t":96,"v":-1.2},{"n":15,"t":99,"v":-0.8},{"n":15,"t":102,"v":-0.6},{"n":15,"t":105,"v":-0.5},{"n":15,"t":108,"v":-0.7},{"n":15,"t":111,"v":-0.6},{"n":15,"t":114,"v":-0.5},
      {"n":16,"t":0,"v":0.3},{"n":16,"t":3,"v":0.2},{"n":16,"t":6,"v":0.4},{"n":16,"t":9,"v":0.1},{"n":16,"t":12,"v":0.3},{"n":16,"t":15,"v":0.2},{"n":16,"t":18,"v":0.3},{"n":16,"t":21,"v":0.4},{"n":16,"t":24,"v":1.4},{"n":16,"t":27,"v":1.6},{"n":16,"t":30,"v":1.5},{"n":16,"t":33,"v":2.0},{"n":16,"t":36,"v":2.2},{"n":16,"t":39,"v":1.9},{"n":16,"t":42,"v":1.4},{"n":16,"t":45,"v":1.0},{"n":16,"t":48,"v":0.9},{"n":16,"t":51,"v":0.8},{"n":16,"t":54,"v":1.0},{"n":16,"t":57,"v":0.6},{"n":16,"t":60,"v":0.5},{"n":16,"t":63,"v":0.4},{"n":16,"t":66,"v":0.3},{"n":16,"t":69,"v":0.5},{"n":16,"t":72,"v":0.4},{"n":16,"t":75,"v":0.2},{"n":16,"t":78,"v":0.3},{"n":16,"t":81,"v":0.4},{"n":16,"t":84,"v":0.2},{"n":16,"t":87,"v":0.3},{"n":16,"t":90,"v":0.1},{"n":16,"t":93,"v":0.3},{"n":16,"t":96,"v":0.2},{"n":16,"t":99,"v":0.4},{"n":16,"t":102,"v":0.3},{"n":16,"t":105,"v":0.2},{"n":16,"t":108,"v":0.3},{"n":16,"t":111,"v":0.1},{"n":16,"t":114,"v":0.2},
      {"n":17,"t":0,"v":0.4},{"n":17,"t":3,"v":0.3},{"n":17,"t":6,"v":0.5},{"n":17,"t":9,"v":0.2},{"n":17,"t":12,"v":0.4},{"n":17,"t":15,"v":0.3},{"n":17,"t":18,"v":0.5},{"n":17,"t":21,"v":0.2},{"n":17,"t":24,"v":0.4},{"n":17,"t":27,"v":0.3},{"n":17,"t":30,"v":0.6},{"n":17,"t":33,"v":0.5},{"n":17,"t":36,"v":0.3},{"n":17,"t":39,"v":0.4},{"n":17,"t":42,"v":0.6},{"n":17,"t":45,"v":0.5},{"n":17,"t":48,"v":0.7},{"n":17,"t":51,"v":0.4},{"n":17,"t":54,"v":0.5},{"n":17,"t":57,"v":0.3},{"n":17,"t":60,"v":0.4},{"n":17,"t":63,"v":0.6},{"n":17,"t":66,"v":0.5},{"n":17,"t":69,"v":0.8},{"n":17,"t":72,"v":0.9},{"n":17,"t":75,"v":0.7},{"n":17,"t":78,"v":0.8},{"n":17,"t":81,"v":0.9},{"n":17,"t":84,"v":0.6},{"n":17,"t":87,"v":0.8},{"n":17,"t":90,"v":0.7},{"n":17,"t":93,"v":0.9},{"n":17,"t":96,"v":0.8},{"n":17,"t":99,"v":1.4},{"n":17,"t":102,"v":1.5},{"n":17,"t":105,"v":1.3},{"n":17,"t":108,"v":1.6},{"n":17,"t":111,"v":1.5},{"n":17,"t":114,"v":1.4},
      {"n":18,"t":0,"v":-0.3},{"n":18,"t":3,"v":-0.5},{"n":18,"t":6,"v":-0.2},{"n":18,"t":9,"v":-0.4},{"n":18,"t":12,"v":-0.3},{"n":18,"t":15,"v":-0.6},{"n":18,"t":18,"v":-0.4},{"n":18,"t":21,"v":-0.3},{"n":18,"t":24,"v":-0.5},{"n":18,"t":27,"v":-0.4},{"n":18,"t":30,"v":-0.2},{"n":18,"t":33,"v":-0.5},{"n":18,"t":36,"v":-0.4},{"n":18,"t":39,"v":-0.3},{"n":18,"t":42,"v":-0.6},{"n":18,"t":45,"v":-0.5},{"n":18,"t":48,"v":-0.4},{"n":18,"t":51,"v":-0.3},{"n":18,"t":54,"v":-0.5},{"n":18,"t":57,"v":-0.4},{"n":18,"t":60,"v":-0.6},{"n":18,"t":63,"v":-0.5},{"n":18,"t":66,"v":-0.4},{"n":18,"t":69,"v":-0.9},{"n":18,"t":72,"v":-1.0},{"n":18,"t":75,"v":-0.8},{"n":18,"t":78,"v":-1.1},{"n":18,"t":81,"v":-0.9},{"n":18,"t":84,"v":-1.0},{"n":18,"t":87,"v":-1.2},{"n":18,"t":90,"v":-1.0},{"n":18,"t":93,"v":-1.3},{"n":18,"t":96,"v":-1.6},{"n":18,"t":99,"v":-1.4},{"n":18,"t":102,"v":-1.5},{"n":18,"t":105,"v":-1.3},{"n":18,"t":108,"v":-1.4},{"n":18,"t":111,"v":-1.2},{"n":18,"t":114,"v":-1.3},
      {"n":19,"t":0,"v":0.0},{"n":19,"t":3,"v":0.2},{"n":19,"t":6,"v":-0.1},{"n":19,"t":9,"v":0.1},{"n":19,"t":12,"v":-0.2},{"n":19,"t":15,"v":0.0},{"n":19,"t":18,"v":0.1},{"n":19,"t":21,"v":-0.1},{"n":19,"t":24,"v":0.2},{"n":19,"t":27,"v":0.0},{"n":19,"t":30,"v":-0.2},{"n":19,"t":33,"v":0.1},{"n":19,"t":36,"v":0.0},{"n":19,"t":39,"v":-0.1},{"n":19,"t":42,"v":0.2},{"n":19,"t":45,"v":0.1},{"n":19,"t":48,"v":0.0},{"n":19,"t":51,"v":-0.2},{"n":19,"t":54,"v":0.1},{"n":19,"t":57,"v":0.0},{"n":19,"t":60,"v":0.2},{"n":19,"t":63,"v":-0.1},{"n":19,"t":66,"v":0.0},{"n":19,"t":69,"v":0.1},{"n":19,"t":72,"v":-0.2},{"n":19,"t":75,"v":0.0},{"n":19,"t":78,"v":0.1},{"n":19,"t":81,"v":-0.1},{"n":19,"t":84,"v":0.2},{"n":19,"t":87,"v":0.0},{"n":19,"t":90,"v":-0.1},{"n":19,"t":93,"v":0.1},{"n":19,"t":96,"v":0.0},{"n":19,"t":99,"v":-0.2},{"n":19,"t":102,"v":0.1},{"n":19,"t":105,"v":0.0},{"n":19,"t":108,"v":-0.1},{"n":19,"t":111,"v":0.2},{"n":19,"t":114,"v":0.0},
      {"n":20,"t":0,"v":0.6},{"n":20,"t":3,"v":0.4},{"n":20,"t":6,"v":0.5},{"n":20,"t":9,"v":0.2},{"n":20,"t":12,"v":0.7},{"n":20,"t":15,"v":0.3},{"n":20,"t":18,"v":0.5},{"n":20,"t":21,"v":0.4},{"n":20,"t":24,"v":0.3},{"n":20,"t":27,"v":0.6},{"n":20,"t":30,"v":0.4},{"n":20,"t":33,"v":0.5},{"n":20,"t":36,"v":0.3},{"n":20,"t":39,"v":0.2},{"n":20,"t":42,"v":0.5},{"n":20,"t":45,"v":0.4},{"n":20,"t":48,"v":0.6},{"n":20,"t":51,"v":0.3},{"n":20,"t":54,"v":0.5},{"n":20,"t":57,"v":0.4},{"n":20,"t":60,"v":0.3},{"n":20,"t":63,"v":0.5},{"n":20,"t":66,"v":0.7},{"n":20,"t":69,"v":1.3},{"n":20,"t":72,"v":0.4},{"n":20,"t":75,"v":0.5},{"n":20,"t":78,"v":0.3},{"n":20,"t":81,"v":0.6},{"n":20,"t":84,"v":0.4},{"n":20,"t":87,"v":0.5},{"n":20,"t":90,"v":0.3},{"n":20,"t":93,"v":0.4},{"n":20,"t":96,"v":0.6},{"n":20,"t":99,"v":0.5},{"n":20,"t":102,"v":0.3},{"n":20,"t":105,"v":1.4},{"n":20,"t":108,"v":0.5},{"n":20,"t":111,"v":0.4},{"n":20,"t":114,"v":0.3}
    ]
  },
  "hconcat": [
    {
      "vconcat": [
        {"width": 290, "height": 1, "data": {"values": []}, "mark": "point", "view": {"stroke": null}},
        {
          "title": {"text": "A", "anchor": "start", "frame": "group", "dx": -22.7, "offset": -6},
          "bounds": "flush",
          "vconcat": [
            {
              "width": 290,
              "height": 335,
              "title": {"text": "Normalized traces", "font": "Liberation Sans", "fontSize": 18, "anchor": "middle", "dx": -8, "offset": 17},
              "resolve": {"axis": {"x": "independent"}},
              "layer": [
                {
                  "data": {"name": "markers"},
                  "mark": {"type": "rule", "color": "#808080", "strokeWidth": 1.3},
                  "encoding": {
                    "x": {"field": "t", "type": "quantitative", "scale": {"domain": [0.3, 112.2], "nice": false, "zero": false},
                      "axis": {"orient": "top", "values": [15, 20, 40, 60, 80, 99, 100, 103.5], "labelExpr": "datum.value == 15 ? 't1' : datum.value == 99 ? 't2' : datum.value == 103.5 ? 't3' : ''", "labelAlign": {"condition": [{"test": "datum.value == 99", "value": "right"}, {"test": "datum.value == 103.5", "value": "left"}], "value": "center"}, "labelFont": "Liberation Serif", "labelFontSize": 14, "labelColor": "#000000", "labelPadding": 6.5, "title": null}}
                  }
                },
                {
                  "data": {"name": "traces"},
                  "mark": {"type": "line", "strokeJoin": "round", "strokeCap": "round"},
                  "encoding": {
                    "x": {"field": "t", "type": "quantitative", "axis": {"values": [20, 40, 60, 80, 100], "title": "time (s)", "labelPadding": 16.5, "titlePadding": 5}},
                    "y": {"field": "v", "type": "quantitative", "scale": {"domain": [0.632, 4.368], "nice": false, "zero": false},
                      "axis": {"values": [1, 2, 3, 4], "labelExpr": "datum.value == 4 ? 'GT' : datum.value == 3 ? 'SE' : datum.value == 2 ? 'TM' : 'RE3D'", "labelAngle": -90, "labelAlign": "center", "labelBaseline": "alphabetic", "labelFontSize": 16.5, "labelPadding": 14.3, "title": null}},
                    "color": {"field": "s", "type": "nominal", "scale": {"domain": ["GT", "SE", "TM", "TM2", "RE3D"], "range": ["#0072BD", "#D95319", "#EDB120", "#4DBEEE", "#7E2F8E"]}, "legend": null},
                    "strokeWidth": {"field": "s", "type": "nominal", "scale": {"domain": ["GT", "SE", "TM", "TM2", "RE3D"], "range": [2.6, 2.6, 2.6, 2.6, 3.2]}, "legend": null}
                  }
                }
              ]
            }
          ]
        }
      ],
      "spacing": 70,
      "bounds": "flush"
    },
    {
      "vconcat": [
        {
          "width": 290,
          "height": 204,
          "title": {"text": "B", "anchor": "start", "frame": "group", "dx": -61.5, "offset": -1},
          "resolve": {"axis": {"x": "independent"}},
          "layer": [
            {
              "data": {"name": "shift"},
              "mark": {"type": "line", "color": "#1a80cc", "strokeWidth": 1.2, "interpolate": "monotone"},
              "encoding": {
                "x": {"field": "t", "type": "quantitative", "scale": {"domain": [0, 117.9], "nice": false, "zero": false}, "axis": {"values": [0, 20, 40, 60, 80, 100], "title": "time (s)", "labelPadding": 16.5, "titlePadding": 5}},
                "y": {"field": "d", "type": "quantitative", "scale": {"domain": [0, 2], "nice": false}, "axis": {"values": [0, 0.5, 1, 1.5, 2], "labelExpr": "'' + datum.value", "title": ["displacement from", "initial position (um)"], "titleLineHeight": 23, "labelPadding": 10, "titlePadding": 10}}
              }
            },
            {
              "data": {"name": "markers"},
              "mark": {"type": "rule", "color": "#6b6b6b", "strokeWidth": 1.2},
              "encoding": {"x": {"field": "t", "type": "quantitative", "axis": {"orient": "top", "values": [20, 40, 60, 80, 100], "labels": false, "title": null}}}
            }
          ]
        },
        {
          "hconcat": [
            {
              "width": 209,
              "height": 205,
              "title": {"text": "C", "anchor": "start", "frame": "group", "dx": -60, "offset": -14.7},
              "layer": [
                {
                  "data": {"name": "heat"},
                  "mark": {"type": "rect", "binSpacing": 0},
                  "encoding": {
                    "x": {"field": "t", "type": "quantitative", "bin": {"binned": true, "step": 3}, "scale": {"domain": [0, 117], "nice": false, "zero": false}, "axis": {"values": [20, 40, 60, 80, 100], "title": "time (s)", "labelPadding": 16.5, "titlePadding": 5}},
                    "y": {"field": "n", "type": "ordinal", "axis": {"values": [5, 10, 15, 20], "title": "neighbour id", "labelAngle": 0, "labelPadding": 10, "titlePadding": 4}},
                    "color": {"field": "v", "type": "quantitative", "scale": {"type": "linear", "domain": [-2.03, -1.54, -0.42, 0.14, 0.7, 1.82, 2.38], "range": ["#00008f", "#0000ff", "#00ffff", "#80ff80", "#ffff00", "#ff0000", "#800000"], "interpolate": "rgb", "clamp": true}, "legend": null}
                  }
                },
                {
                  "data": {"name": "markers"},
                  "mark": {"type": "rule", "color": "#3a3a3a", "strokeWidth": 1},
                  "encoding": {"x": {"field": "t", "type": "quantitative", "axis": null}}
                }
              ]
            },
            {
              "width": 22,
              "height": 205,
              "data": {"name": "cbar"},
              "mark": {"type": "rect", "fill": {"gradient": "linear", "x1": 0, "y1": 1, "x2": 0, "y2": 0, "stops": [{"offset": 0, "color": "#00008f"}, {"offset": 0.111, "color": "#0000ff"}, {"offset": 0.365, "color": "#00ffff"}, {"offset": 0.492, "color": "#80ff80"}, {"offset": 0.619, "color": "#ffff00"}, {"offset": 0.873, "color": "#ff0000"}, {"offset": 1, "color": "#800000"}]}},
              "encoding": {
                "y": {"field": "lo", "type": "quantitative", "scale": {"domain": [-2.03, 2.38], "nice": false, "zero": false}, "axis": {"orient": "right", "values": [-2, -1, 0, 1, 2], "labelExpr": "'' + datum.value", "title": "displacement (μm)", "titleAngle": 270, "titleBaseline": "top", "titleFontSize": 14.5, "labelPadding": 12.5, "titlePadding": 12}},
                "y2": {"field": "hi"}
              }
            }
          ],
          "spacing": 12,
          "bounds": "flush"
        }
      ],
      "spacing": 79,
      "bounds": "flush"
    }
  ],
  "spacing": 381,
  "bounds": "flush"
}
